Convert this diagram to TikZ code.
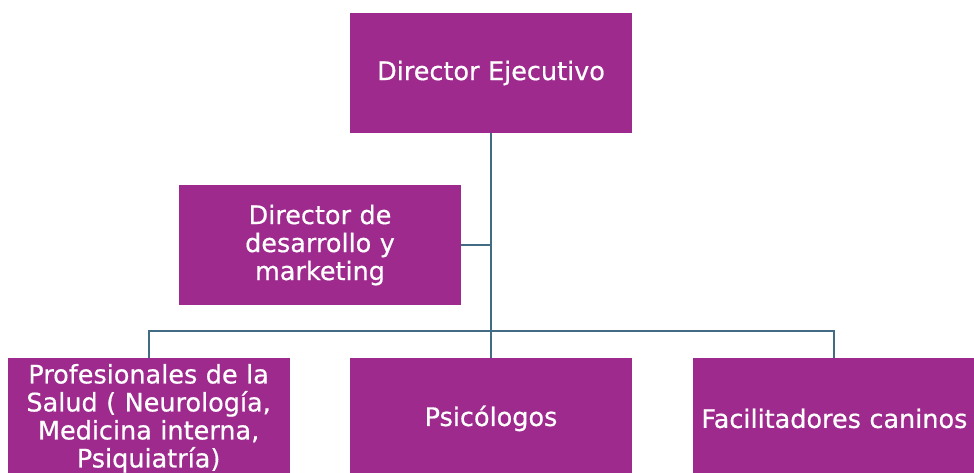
\documentclass[tikz,border=0pt]{standalone}
\usepackage{fontspec}
\setmainfont{DejaVu Sans}[FakeBold=0.6]
\usetikzlibrary{positioning}
\definecolor{morado}{RGB}{158,42,142}
\definecolor{azulgris}{RGB}{66,108,132}
\tikzstyle{cargo} = [rectangle, minimum width=282pt, minimum height=120pt, inner sep=0pt, text width=272pt, align=center, fill=morado, text=white, font=\fontsize{25.5}{28}\selectfont]
\tikzstyle{linea} = [line width=2pt, draw=azulgris]

\begin{document}
\begin{tikzpicture}[x=1pt, y=1pt, node distance=60pt]
\useasboundingbox (0,0) rectangle (974,-473);
\node (ejec) [cargo] at (491,-73) {Director Ejecutivo};

\node (desa) [cargo] at (320,-245) {Director de\\desarrollo y\\marketing};

\node (psico) [cargo, below=225pt of ejec] {Psicólogos};
\node (salud) [cargo, left=of psico] {Profesionales de la\\Salud ( Neurología,\\Medicina interna,\\Psiquiatría)};
\node (facil) [cargo, right=61pt of psico] {\makebox[272pt]{Facilitadores caninos}};

\coordinate (barra) at (491,-331);

\draw [linea] (ejec.south) -- (psico.north);
\draw [linea] (desa.east) -- (desa.east -| ejec.south);
\draw [linea] (salud.north) |- (barra) -| (facil.north);
\end{tikzpicture}
\end{document}
